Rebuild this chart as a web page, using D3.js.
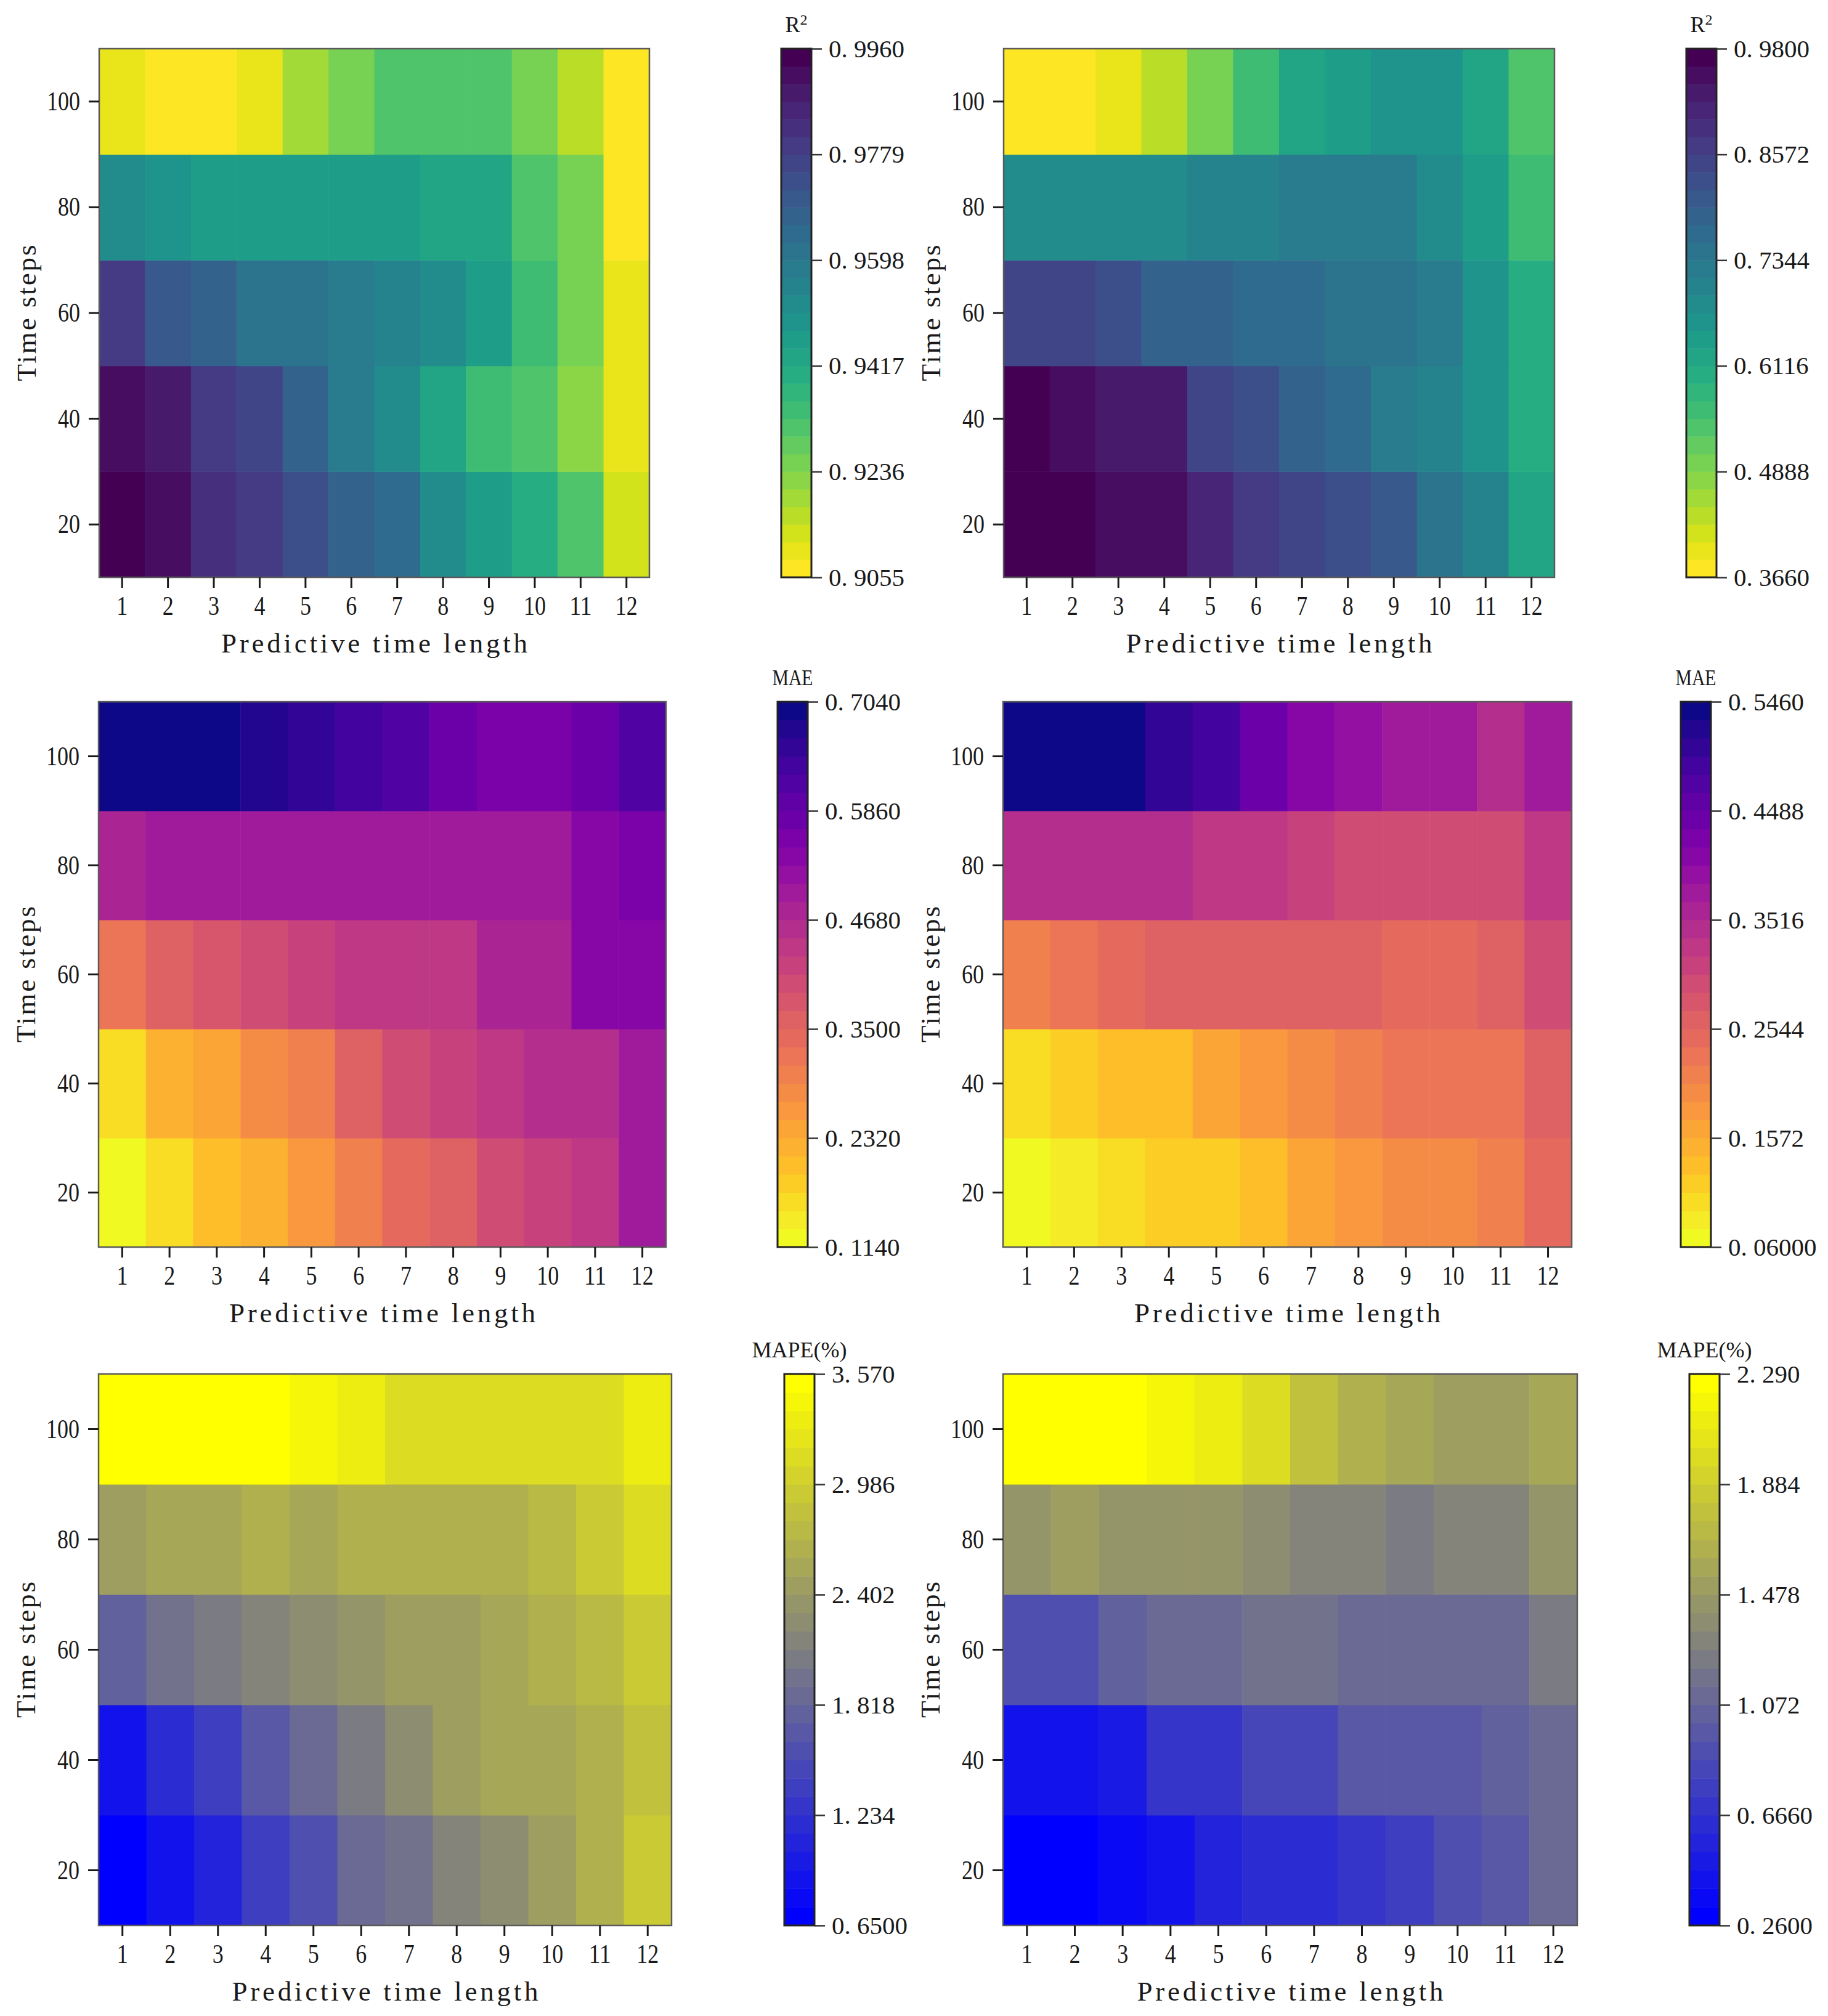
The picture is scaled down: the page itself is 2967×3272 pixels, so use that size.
<!DOCTYPE html>
<html>
<head>
<meta charset="utf-8">
<script src="https://cdn.jsdelivr.net/npm/d3@7"></script>
<style>
  body { margin: 0; background: #fff; }
  text { font-family: "Liberation Serif", "DejaVu Serif", serif; fill: #1a1a1a; }
</style>
</head>
<body>
<div id="chart"></div>
<script>
// categories
var predLen = [1, 2, 3, 4, 5, 6, 7, 8, 9, 10, 11, 12];
var timeSteps = [20, 40, 60, 80, 100];

// rows follow timeSteps (20 .. 100), columns follow predLen
var r2Left = [
  [0.9960, 0.9915, 0.9833, 0.9797, 0.9743, 0.9661, 0.9634, 0.9535, 0.9462, 0.9390, 0.9317, 0.9118],
  [0.9915, 0.9870, 0.9806, 0.9761, 0.9679, 0.9589, 0.9535, 0.9417, 0.9327, 0.9317, 0.9218, 0.9091],
  [0.9779, 0.9716, 0.9670, 0.9625, 0.9607, 0.9589, 0.9562, 0.9508, 0.9453, 0.9345, 0.9263, 0.9091],
  [0.9508, 0.9489, 0.9471, 0.9453, 0.9462, 0.9462, 0.9462, 0.9435, 0.9417, 0.9308, 0.9236, 0.9055],
  [0.9091, 0.9055, 0.9055, 0.9091, 0.9182, 0.9245, 0.9308, 0.9308, 0.9308, 0.9254, 0.9164, 0.9055]
];
var r2Right = [
  [0.9800, 0.9800, 0.9554, 0.9432, 0.9063, 0.8695, 0.8511, 0.8204, 0.7958, 0.7528, 0.7098, 0.6116],
  [0.9616, 0.9432, 0.9370, 0.9186, 0.8511, 0.8204, 0.7835, 0.7712, 0.7160, 0.6976, 0.6607, 0.5993],
  [0.8572, 0.8449, 0.8204, 0.7835, 0.7835, 0.7651, 0.7651, 0.7467, 0.7467, 0.7283, 0.6607, 0.5932],
  [0.6791, 0.6730, 0.6730, 0.6730, 0.6976, 0.6976, 0.7221, 0.7221, 0.7221, 0.6791, 0.6484, 0.5625],
  [0.3660, 0.3660, 0.3906, 0.4274, 0.4949, 0.5563, 0.6300, 0.6423, 0.6607, 0.6546, 0.6239, 0.5379]
];
var maeLeft = [
  [0.1140, 0.1671, 0.1966, 0.2320, 0.2674, 0.3028, 0.3323, 0.3559, 0.3972, 0.4149, 0.4385, 0.4975],
  [0.1730, 0.2143, 0.2379, 0.2792, 0.3087, 0.3618, 0.3972, 0.4090, 0.4385, 0.4562, 0.4562, 0.4975],
  [0.3146, 0.3618, 0.3795, 0.3972, 0.4149, 0.4326, 0.4326, 0.4326, 0.4680, 0.4680, 0.5270, 0.5270],
  [0.4857, 0.5034, 0.5034, 0.5034, 0.5034, 0.5034, 0.4916, 0.4916, 0.4916, 0.5034, 0.5388, 0.5506],
  [0.7040, 0.7040, 0.7040, 0.6686, 0.6568, 0.6273, 0.6096, 0.5860, 0.5624, 0.5624, 0.5801, 0.6096]
];
var maeRight = [
  [0.0600, 0.0794, 0.0989, 0.1135, 0.1232, 0.1378, 0.1572, 0.1766, 0.1912, 0.1912, 0.2058, 0.2495],
  [0.0989, 0.1135, 0.1280, 0.1378, 0.1621, 0.1766, 0.1912, 0.2107, 0.2252, 0.2252, 0.2252, 0.2641],
  [0.2107, 0.2252, 0.2495, 0.2641, 0.2641, 0.2641, 0.2641, 0.2641, 0.2447, 0.2447, 0.2641, 0.3030],
  [0.3419, 0.3419, 0.3419, 0.3419, 0.3224, 0.3224, 0.3079, 0.2933, 0.2933, 0.2933, 0.2933, 0.3224],
  [0.5460, 0.5460, 0.5460, 0.5120, 0.4828, 0.4488, 0.4148, 0.3953, 0.3808, 0.3710, 0.3419, 0.3710]
];
var mapeLeft = [
  [0.650, 0.854, 1.117, 1.351, 1.614, 1.818, 1.964, 2.139, 2.256, 2.402, 2.606, 2.898],
  [0.913, 1.146, 1.351, 1.643, 1.876, 2.052, 2.256, 2.431, 2.548, 2.548, 2.606, 2.840],
  [1.760, 1.935, 2.022, 2.110, 2.227, 2.344, 2.431, 2.431, 2.519, 2.665, 2.723, 2.928],
  [2.460, 2.519, 2.519, 2.636, 2.577, 2.665, 2.665, 2.665, 2.665, 2.782, 2.960, 3.161],
  [3.570, 3.570, 3.570, 3.482, 3.395, 3.278, 3.161, 3.103, 3.103, 3.103, 3.132, 3.278]
];
var mapeRight = [
  [0.260, 0.301, 0.362, 0.402, 0.585, 0.646, 0.646, 0.727, 0.788, 0.869, 0.971, 1.092],
  [0.402, 0.443, 0.504, 0.686, 0.686, 0.808, 0.808, 0.950, 0.950, 0.950, 1.011, 1.113],
  [0.869, 0.930, 1.011, 1.092, 1.092, 1.153, 1.153, 1.092, 1.092, 1.092, 1.092, 1.214],
  [1.458, 1.519, 1.437, 1.437, 1.437, 1.356, 1.295, 1.295, 1.214, 1.295, 1.295, 1.437],
  [2.290, 2.290, 2.290, 2.209, 2.107, 1.965, 1.803, 1.661, 1.580, 1.498, 1.498, 1.580]
];

// colour bar ranges and tick labels (bottom to top)
var r2LeftRange = [0.9055, 0.9960];
var r2RightRange = [0.3660, 0.9800];
var maeLeftRange = [0.1140, 0.7040];
var maeRightRange = [0.0600, 0.5460];
var mapeLeftRange = [0.6500, 3.570];
var mapeRightRange = [0.2600, 2.290];

var r2LeftTicks = ["0. 9055", "0. 9236", "0. 9417", "0. 9598", "0. 9779", "0. 9960"];
var r2RightTicks = ["0. 3660", "0. 4888", "0. 6116", "0. 7344", "0. 8572", "0. 9800"];
var maeLeftTicks = ["0. 1140", "0. 2320", "0. 3500", "0. 4680", "0. 5860", "0. 7040"];
var maeRightTicks = ["0. 06000", "0. 1572", "0. 2544", "0. 3516", "0. 4488", "0. 5460"];
var mapeLeftTicks = ["0. 6500", "1. 234", "1. 818", "2. 402", "2. 986", "3. 570"];
var mapeRightTicks = ["0. 2600", "0. 6660", "1. 072", "1. 478", "1. 884", "2. 290"];

var W = 2967, H = 3272;
var nLevels = 30;
var blueYellow = d3.interpolateRgb("#0000ff", "#ffff00");

var panels = [
  {data: r2Left, range: r2LeftRange, ticks: r2LeftTicks, label: "R", sup: "2", cmap: d3.interpolateViridis, rev: true,
   x0: 161, x1: 1054, y0: 79, y1: 937, cb: 1268},
  {data: r2Right, range: r2RightRange, ticks: r2RightTicks, label: "R", sup: "2", cmap: d3.interpolateViridis, rev: true,
   x0: 1629, x1: 2523, y0: 79, y1: 937, cb: 2737},
  {data: maeLeft, range: maeLeftRange, ticks: maeLeftTicks, label: "MAE", cmap: d3.interpolatePlasma, rev: true,
   x0: 160, x1: 1081, y0: 1139, y1: 2024, cb: 1262},
  {data: maeRight, range: maeRightRange, ticks: maeRightTicks, label: "MAE", cmap: d3.interpolatePlasma, rev: true,
   x0: 1628, x1: 2551, y0: 1139, y1: 2024, cb: 2728},
  {data: mapeLeft, range: mapeLeftRange, ticks: mapeLeftTicks, label: "MAPE(%)", cmap: blueYellow, rev: false,
   x0: 160, x1: 1090, y0: 2230, y1: 3125, cb: 1273},
  {data: mapeRight, range: mapeRightRange, ticks: mapeRightTicks, label: "MAPE(%)", cmap: blueYellow, rev: false,
   x0: 1628, x1: 2560, y0: 2230, y1: 3125, cb: 2742}
];

var svg = d3.select("#chart").append("svg")
    .attr("width", W)
    .attr("height", H);

svg.append("rect").attr("width", W).attr("height", H).attr("fill", "#fff");

panels.forEach(function(p) {
  // discrete colormap with 30 levels, like the colour bar
  var colors = d3.range(nLevels).map(function(i) {
    var t = i / (nLevels - 1);
    return p.cmap(p.rev ? 1 - t : t);
  });
  var color = d3.scaleQuantize().domain(p.range).range(colors);

  var x = d3.scaleBand().domain(predLen).range([p.x0, p.x1]);
  var y = d3.scaleBand().domain(timeSteps).range([p.y1, p.y0]);

  var g = svg.append("g");

  var cells = [];
  p.data.forEach(function(row, i) {
    row.forEach(function(v, j) {
      cells.push({ts: timeSteps[i], pl: predLen[j], v: v});
    });
  });

  g.selectAll(".cell")
      .data(cells)
    .enter().append("rect")
      .attr("class", "cell")
      .attr("x", function(d) { return x(d.pl); })
      .attr("y", function(d) { return y(d.ts); })
      .attr("width", x.bandwidth() + 0.5)
      .attr("height", y.bandwidth() + 0.5)
      .attr("fill", function(d) { return color(d.v); });

  // frame
  g.append("rect")
      .attr("x", p.x0).attr("y", p.y0)
      .attr("width", p.x1 - p.x0).attr("height", p.y1 - p.y0)
      .attr("fill", "none").attr("stroke", "#5a5a5a").attr("stroke-width", 2.5);

  var xAxis = g.append("g")
      .attr("transform", "translate(0," + p.y1 + ")")
      .call(d3.axisBottom(x).tickSize(17).tickPadding(13));
  var yAxis = g.append("g")
      .attr("transform", "translate(" + p.x0 + ",0)")
      .call(d3.axisLeft(y).tickSize(17).tickPadding(14));

  [xAxis, yAxis].forEach(function(a) {
    a.select(".domain").remove();
    a.selectAll(".tick line").attr("stroke", "#1a1a1a").attr("stroke-width", 3);
    a.selectAll(".tick text")
        .style("font-family", "Liberation Serif")
        .style("font-size", "44px")
        .attr("fill", "#1a1a1a")
        .attr("textLength", function(d) { return String(d).length * 18; })
        .attr("lengthAdjust", "spacingAndGlyphs");
  });

  g.append("text")
      .attr("x", (p.x0 + p.x1) / 2)
      .attr("y", p.y1 + 122)
      .attr("text-anchor", "middle")
      .attr("textLength", 497)
      .attr("lengthAdjust", "spacing")
      .style("font-size", "45px")
      .text("Predictive time length");

  g.append("text")
      .attr("transform", "translate(" + (p.x0 - 119) + "," + ((p.y0 + p.y1) / 2) + ") rotate(-90)")
      .attr("text-anchor", "middle")
      .attr("dy", "0.35em")
      .attr("textLength", 221)
      .attr("lengthAdjust", "spacing")
      .style("font-size", "45px")
      .text("Time steps");

  // colour bar
  var cbW = 49;
  var cy = d3.scaleLinear().domain(p.range).range([p.y1, p.y0]);
  var step = (p.range[1] - p.range[0]) / nLevels;
  g.selectAll(".band")
      .data(colors)
    .enter().append("rect")
      .attr("class", "band")
      .attr("x", p.cb)
      .attr("y", function(c, i) { return cy(p.range[0] + (i + 1) * step); })
      .attr("width", cbW)
      .attr("height", function(c, i) { return cy(p.range[0] + i * step) - cy(p.range[0] + (i + 1) * step) + 0.5; })
      .attr("fill", function(c) { return c; });

  g.append("rect")
      .attr("x", p.cb).attr("y", p.y0)
      .attr("width", cbW).attr("height", p.y1 - p.y0)
      .attr("fill", "none").attr("stroke", "#222").attr("stroke-width", 3);

  var tickVals = d3.range(6).map(function(k) { return p.range[0] + k * (p.range[1] - p.range[0]) / 5; });
  var cAxis = g.append("g")
      .attr("transform", "translate(" + (p.cb + cbW) + ",0)")
      .call(d3.axisRight(cy).tickValues(tickVals)
          .tickFormat(function(d, i) { return p.ticks[i]; })
          .tickSize(17).tickPadding(11));
  cAxis.select(".domain").remove();
  cAxis.selectAll(".tick line").attr("stroke", "#333").attr("stroke-width", 2.5);
  cAxis.selectAll(".tick text")
      .style("font-family", "Liberation Serif")
      .style("font-size", "41px")
      .attr("fill", "#1a1a1a");

  var lab = g.append("text")
      .attr("x", p.cb + cbW / 2)
      .attr("y", p.y0 - 27)
      .attr("text-anchor", "middle")
      .style("font-size", "36px")
      .text(p.label);
  if (p.sup) {
    lab.append("tspan")
        .attr("dy", "-0.5em")
        .style("font-size", "24px")
        .text(p.sup);
  } else {
    lab.attr("textLength", p.label.length * 22)
        .attr("lengthAdjust", "spacingAndGlyphs");
  }
});
</script>
</body>
</html>
